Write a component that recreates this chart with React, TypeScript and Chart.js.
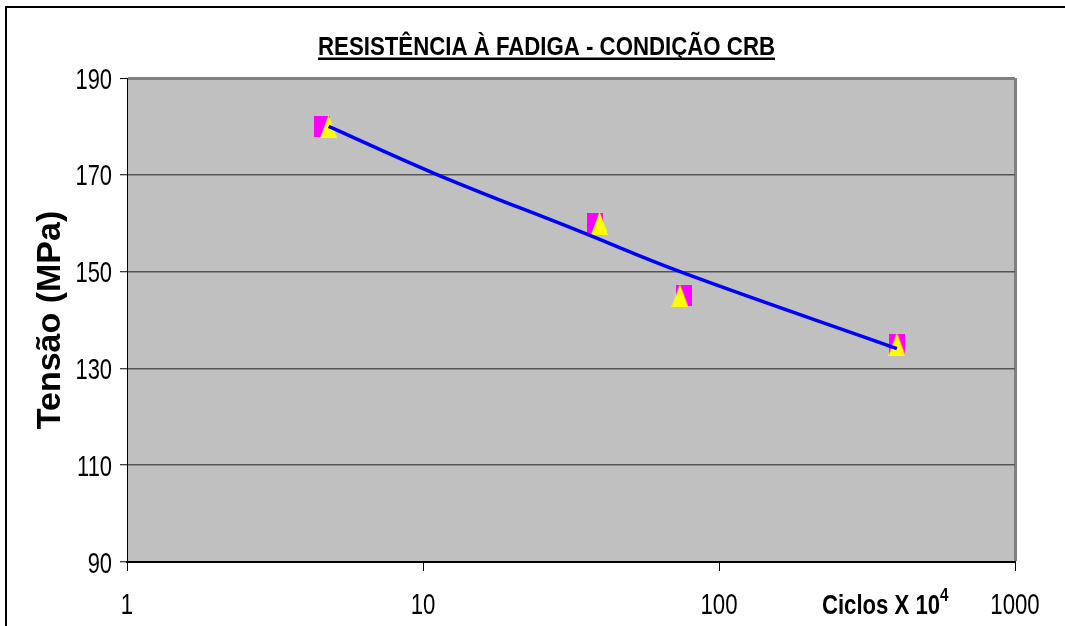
import React, { useEffect, useRef } from "react";
import { Chart, registerables } from "chart.js";

Chart.register(...registerables);

// ---- data ----
const squareCycles = [4.55, 38.1, 76.4, 399];
const squareStress = [180, 160, 145, 135];
const triangleCycles = [4.8, 39.5, 73.8, 399];
const triangleStress = [180, 160, 145, 135];
const trendCycles = [4.8, 11.2, 33.9, 73.8, 399];
const trendStress = [180.0, 170.0, 158.3, 150.0, 134.1];
const xTickValues = [1, 10, 100, 1000];
const yMin = 90;
const yMax = 190;
const yStep = 20;

const chartTitle = "RESISTÊNCIA À FADIGA - CONDIÇÃO CRB";
const yTitle = "Tensão (MPa)";
const xTitleMain = "Ciclos X 10";
const xTitleSup = "4";

const SANS = '"Liberation Sans", Arial, sans-serif';

function makeRect(w: number, h: number, color: string) {
  const c = document.createElement("canvas");
  c.width = w;
  c.height = h;
  const g = c.getContext("2d")!;
  g.fillStyle = color;
  g.fillRect(0, 0, w, h);
  return c;
}

function makeTriangle(w: number, h: number, color: string) {
  const c = document.createElement("canvas");
  c.width = w;
  c.height = h;
  const g = c.getContext("2d")!;
  g.fillStyle = color;
  g.beginPath();
  g.moveTo(w / 2, 0);
  g.lineTo(w, h);
  g.lineTo(0, h);
  g.closePath();
  g.fill();
  return c;
}

function fitText(ctx: CanvasRenderingContext2D, text: string, x: number, y: number, width: number) {
  const m = ctx.measureText(text).width;
  const sx = width / m;
  ctx.save();
  ctx.translate(x, y);
  ctx.scale(sx, 1);
  ctx.fillText(text, 0, 0);
  ctx.restore();
}

function squeezeText(ctx: CanvasRenderingContext2D, text: string, x: number, y: number, sx: number) {
  ctx.save();
  ctx.translate(x, y);
  ctx.scale(sx, 1);
  ctx.fillText(text, 0, 0);
  ctx.restore();
}

export default function App() {
  const ref = useRef<HTMLCanvasElement>(null);

  useEffect(() => {
    document.body.style.margin = "0";
    const rectImg = makeRect(16, 21, "#ff00ff");
    const triImg = makeTriangle(17, 23, "#ffff00");

    const decor = {
      id: "decor",
      beforeDraw(chart: any) {
        const { ctx, chartArea: a, width, height } = chart;
        ctx.save();
        ctx.fillStyle = "#ffffff";
        ctx.fillRect(0, 0, width, height);
        ctx.fillStyle = "#c0c0c0";
        ctx.fillRect(a.left, a.top, a.right - a.left, a.bottom - a.top);
        ctx.restore();
      },
      afterDraw(chart: any) {
        const { ctx, width, height } = chart;
        ctx.save();
        // outer frame
        ctx.strokeStyle = "#000";
        ctx.lineWidth = 2;
        ctx.beginPath();
        ctx.moveTo(6, height + 5);
        ctx.lineTo(6, 7);
        ctx.lineTo(width + 5, 7);
        ctx.stroke();
        // title
        ctx.fillStyle = "#000";
        ctx.textBaseline = "alphabetic";
        ctx.textAlign = "left";
        ctx.font = `bold 25px ${SANS}`;
        fitText(ctx, chartTitle, 318, 54.5, 457);
        ctx.fillRect(318, 57.5, 457, 2.5);

        // tick labels from the scales (condensed like the original)
        const xs = chart.scales.x;
        const ys = chart.scales.y;
        ctx.font = `30px ${SANS}`;
        ctx.textAlign = "right";
        ys.ticks.forEach((t: any) => {
          const py = ys.getPixelForValue(t.value);
          squeezeText(ctx, String(t.label ?? t.value), 112, py + 10.5, 0.73);
        });
        ctx.textAlign = "center";
        xs.ticks.forEach((t: any) => {
          const px = xs.getPixelForValue(t.value);
          squeezeText(ctx, String(t.value), px, 614, 0.74);
        });

        // x axis title
        ctx.textAlign = "left";
        ctx.font = `bold 28px ${SANS}`;
        fitText(ctx, xTitleMain, 822, 614, 118);
        ctx.font = `bold 19px ${SANS}`;
        squeezeText(ctx, xTitleSup, 940, 601, 0.8);
        ctx.restore();
      },
    };

    const chart = new Chart(ref.current!, {
      type: "scatter",
      data: {
        datasets: [
          {
            type: "line",
            data: trendCycles.map((x, i) => ({ x, y: trendStress[i] })),
            borderColor: "#0000ff",
            borderWidth: 3.5,
            pointRadius: 0,
            tension: 0.4,
            fill: false,
            order: 0,
          } as any,
          {
            data: triangleCycles.map((x, i) => ({ x, y: triangleStress[i] })),
            pointStyle: triImg as any,
            pointRadius: 10,
            showLine: false,
            order: 1,
          },
          {
            data: squareCycles.map((x, i) => ({ x, y: squareStress[i] })),
            pointStyle: rectImg as any,
            pointRadius: 10,
            showLine: false,
            order: 2,
          },
        ],
      },
      options: {
        animation: false,
        responsive: true,
        maintainAspectRatio: false,
        layout: { padding: { top: 78, right: 50, bottom: 0, left: 0 } },
        plugins: {
          legend: { display: false },
          tooltip: { enabled: false },
          title: { display: false },
        },
        scales: {
          x: {
            type: "logarithmic",
            min: 1,
            max: 1000,
            afterBuildTicks: (s: any) => {
              s.ticks = xTickValues.map((v) => ({ value: v }));
            },
            afterFit: (s: any) => {
              s.height = 64;
            },
            ticks: {
              display: false,
              autoSkip: false,
              maxRotation: 0,
              minRotation: 0,
              callback: (v: any) => String(v),
            },
            grid: {
              drawOnChartArea: true,
              color: (c: any) => (c.tick && c.tick.value === 1000 ? "#808080" : "rgba(0,0,0,0)"),
              lineWidth: (c: any) => (c.tick && c.tick.value === 1000 ? 3 : 1),
              tickColor: "#000",
              tickWidth: 1,
              tickLength: 9,
            },
            border: { display: true, color: "#000", width: 2 },
          },
          y: {
            type: "linear",
            min: yMin,
            max: yMax,
            afterFit: (s: any) => {
              s.width = 127;
            },
            ticks: {
              display: false,
              stepSize: yStep,
            },
            grid: {
              color: (c: any) =>
                c.tick && c.tick.value === yMax ? "#808080" : c.tick && c.tick.value === yMin ? "#000" : "#555555",
              lineWidth: (c: any) => (c.tick && c.tick.value === yMax ? 3 : 1.5),
              tickColor: "#000",
              tickWidth: 1,
              tickLength: 7,
            },
            border: { display: true, color: "#000", width: 1 },
            title: {
              display: true,
              text: yTitle,
              color: "#000",
              font: { family: SANS, size: 34, weight: "bold" },
              padding: { top: 30, bottom: 0 },
            },
          },
        },
      },
      plugins: [decor],
    });
    return () => chart.destroy();
  }, []);

  return (
    <div style={{ position: "relative", width: 1065, height: 626 }}>
      <canvas ref={ref} />
    </div>
  );
}
